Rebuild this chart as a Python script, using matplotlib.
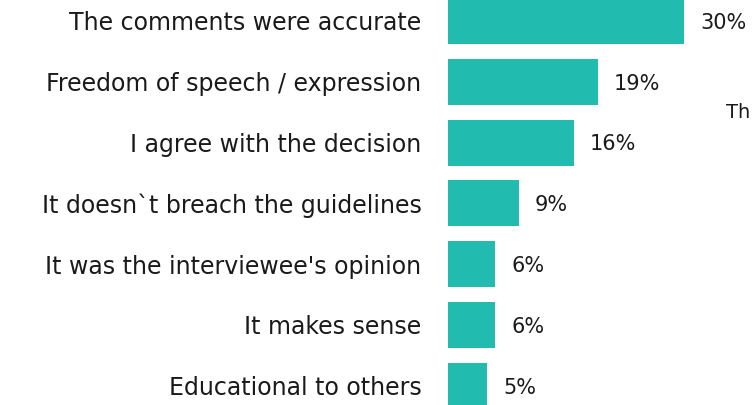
import matplotlib
matplotlib.use("Agg")
import matplotlib.pyplot as plt

categories = [
    "The comments were accurate",
    "Freedom of speech / expression",
    "I agree with the decision",
    "It doesn`t breach the guidelines",
    "It was the interviewee's opinion",
    "It makes sense",
    "Educational to others",
]
values = [30, 19, 16, 9, 6, 6, 5]
value_labels = [f"{v}%" for v in values]

BAR_COLOR = "#21BBAF"
TEXT_COLOR = "#1a1a1a"
plt.rcParams["font.family"] = ["DejaVu Sans"]

W, H = 753, 405
fig = plt.figure(figsize=(W / 100, H / 100), dpi=100)
left_px = 448
ax = fig.add_axes([left_px / W, 0, (W - left_px) / W, 1])

px_per_unit = 7.87
ax.set_xlim(0, (W - left_px) / px_per_unit)
pitch = 60.8
ax.set_ylim((H - 21) / pitch, -21 / pitch)

ypos = list(range(len(categories)))
ax.barh(ypos, values, height=46 / pitch, color=BAR_COLOR, edgecolor="none")

for y, v, lab in zip(ypos, values, value_labels):
    ax.text(v + 16 / px_per_unit, y + 0.03, lab, ha="left", va="center",
            fontsize=15, color=TEXT_COLOR)

ax.set_yticks(ypos)
ax.set_yticklabels(categories, fontsize=17, color=TEXT_COLOR)
ax.tick_params(axis="y", length=0, pad=19)
ax.set_xticks([])
for s in ax.spines.values():
    s.set_visible(False)

fig.text(726 / W, 1 - 112 / H, "Th", ha="left", va="center",
         fontsize=14, color=TEXT_COLOR)

fig.savefig("out.png", dpi=100)
